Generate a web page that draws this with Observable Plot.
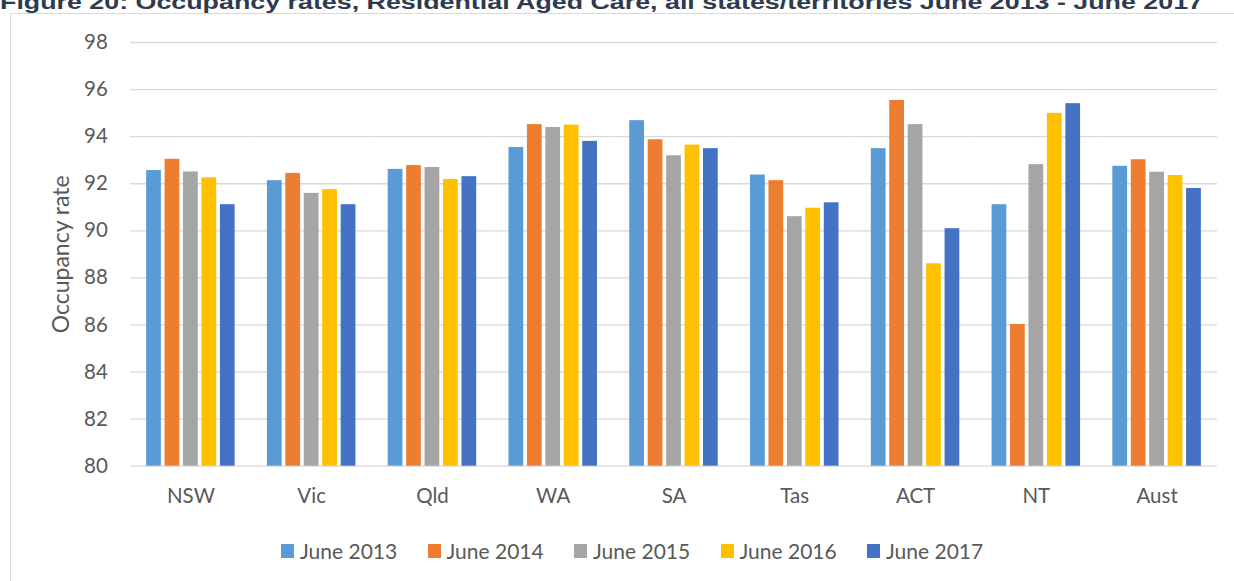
<!DOCTYPE html>
<html>
<head>
<meta charset="utf-8">
<script src="https://cdn.jsdelivr.net/npm/d3@7"></script>
<script src="https://cdn.jsdelivr.net/npm/@observablehq/plot@0.6"></script>
<style>
  html, body { margin: 0; padding: 0; background: #ffffff; width: 1234px; height: 581px; overflow: hidden; }
  #wrap { position: relative; width: 1234px; height: 581px; overflow: hidden; }
  #frame { position: absolute; left: 10px; top: 12.5px; width: 1400px; height: 700px; border: 1.3px solid #d9d9d9; box-sizing: border-box; }
  #title { position: absolute; left: 0px; top: -9px; white-space: nowrap; font-family: "Liberation Sans", Arial, sans-serif; font-weight: bold; font-size: 21px; line-height: 21px; color: #2E3A4E; transform-origin: 0 0; }
  #chart { position: absolute; left: 0; top: 0; }
  #legend { position: absolute; left: 281px; top: 538px; display: flex; font-family: Lato, "Open Sans", sans-serif; font-size: 21px; color: #595959; }
  .item { display: flex; align-items: center; width: 146.5px; }
  .sw { width: 13px; height: 14px; margin-right: 6px; flex: none; }
</style>
</head>
<body>
<div id="wrap">
  <div id="frame"></div>
  <div id="title">Figure 20: Occupancy rates, Residential Aged Care, all states/territories June 2013 - June 2017</div>
  <div id="chart"></div>
  <div id="legend"></div>
</div>
<script>
const states = ["NSW", "Vic", "Qld", "WA", "SA", "Tas", "ACT", "NT", "Aust"];
const years = ["June 2013", "June 2014", "June 2015", "June 2016", "June 2017"];
const colors = ["#5B9BD5", "#ED7D31", "#A5A5A5", "#FFC000", "#4472C4"];
const yTicks = [80, 82, 84, 86, 88, 90, 92, 94, 96, 98];

const june2013 = [92.56, 92.13, 92.61, 93.54, 94.68, 92.37, 93.49, 91.11, 92.74];
const june2014 = [93.04, 92.44, 92.77, 94.51, 93.87, 92.13, 95.54, 86.02, 93.02];
const june2015 = [92.50, 91.59, 92.69, 94.39, 93.19, 90.60, 94.51, 92.81, 92.49];
const june2016 = [92.25, 91.75, 92.18, 94.49, 93.64, 90.96, 88.60, 94.99, 92.35];
const june2017 = [91.11, 91.11, 92.30, 93.80, 93.49, 91.19, 90.09, 95.40, 91.80];
const series = [june2013, june2014, june2015, june2016, june2017];

const data = states.flatMap((s, i) => years.map((y, j) => ({state: s, year: y, value: series[j][i]})));

const chart = Plot.plot({
  width: 1234,
  height: 520,
  marginTop: 42,
  marginBottom: 54.3,
  marginLeft: 130,
  marginRight: 17,
  style: {background: "transparent", fontFamily: "Lato, 'Open Sans', sans-serif", fontSize: "20.5px", color: "#595959", overflow: "visible"},
  fx: {domain: states, padding: 0, round: false, label: null},
  x: {domain: years, paddingInner: 0.2, paddingOuter: 0.875, round: false, axis: null},
  y: {domain: [80, 98], label: null},
  color: {domain: years, range: colors},
  marks: [
    Plot.gridY(yTicks, {stroke: "#d9d9d9", strokeOpacity: 1, strokeWidth: 1.3}),
    Plot.barY(data, {fx: "state", x: "year", y1: 80, y2: "value", fill: "year"}),
    Plot.axisY(yTicks, {tickSize: 0, tickPadding: 22.7, fontSize: 20.5, label: "Occupancy rate", labelAnchor: "center", labelArrow: "none", labelOffset: 78}),
    Plot.axisFx({anchor: "bottom", tickSize: 0, tickPadding: 22, fontSize: 20.5, label: null})
  ]
});
document.getElementById("chart").appendChild(chart);
d3.select(chart).selectAll('g[aria-label="y-axis label"] text').attr("font-size", 23);

const legend = d3.select("#legend");
years.forEach((y, j) => {
  const it = legend.append("div").attr("class", "item");
  it.append("div").attr("class", "sw").style("background", colors[j]);
  it.append("span").text(y);
});

const title = document.getElementById("title");
const w = title.getBoundingClientRect().width;
title.style.transform = `scaleX(${1203 / w})`;
</script>
</body>
</html>
